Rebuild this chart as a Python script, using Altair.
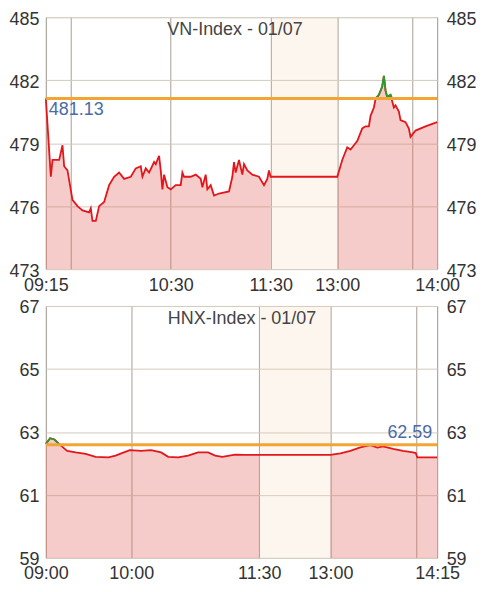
import altair as alt
import pandas as pd
import numpy as np

# ---------------- data ----------------
vn_times = ["09:15", "09:18", "09:19", "09:23", "09:25", "09:26", "09:28", "09:31", "09:34", "09:37",
            "09:41", "09:42", "09:43", "09:45", "09:47", "09:50", "09:53", "09:56", "09:59", "10:02",
            "10:06", "10:09", "10:12", "10:13", "10:15", "10:17", "10:20", "10:21", "10:23", "10:24",
            "10:25", "10:26", "10:28", "10:30", "10:33", "10:36", "10:37", "10:38", "10:42", "10:45",
            "10:48", "10:49", "10:51", "10:52", "10:54", "10:56", "10:59", "11:05", "11:07", "11:08",
            "11:09", "11:11", "11:13", "11:14", "11:16", "11:19", "11:23", "11:26", "11:28", "11:29",
            "11:30", "13:00", "13:03", "13:04", "13:06", "13:08", "13:10", "13:12", "13:15", "13:17",
            "13:19", "13:20", "13:22", "13:23", "13:25", "13:27", "13:28", "13:29", "13:30", "13:32",
            "13:33", "13:34", "13:35", "13:37", "13:38", "13:41", "13:43", "13:44", "13:46", "13:47",
            "13:53", "14:00"]
vn_values = [481.13, 477.4, 478.2, 478.2, 478.9, 477.9, 477.7, 476.3, 476.0, 475.8,
             475.7, 475.9, 475.3, 475.3, 476.0, 476.2, 477.0, 477.4, 477.6, 477.3,
             477.4, 477.8, 477.9, 477.4, 477.8, 477.6, 478.1, 478.0, 478.4, 477.7,
             476.8, 477.5, 476.9, 476.8, 477.0, 477.0, 477.6, 477.4, 477.4, 477.5,
             477.3, 476.9, 477.5, 476.8, 477.0, 476.5, 476.6, 476.7, 477.4, 478.1,
             477.6, 478.2, 477.5, 478.0, 477.7, 477.5, 477.4, 477.0, 477.3, 477.7,
             477.4, 477.4, 478.2, 478.4, 478.8, 478.7, 478.9, 479.1, 479.7, 479.8,
             479.8, 480.3, 480.7, 481.1, 481.3, 481.7, 482.2, 481.5, 481.2, 481.3,
             481.0, 480.7, 480.8, 480.5, 480.1, 480.0, 479.7, 479.3, 479.5, 479.6,
             479.8, 480.0]
vn_ref = 481.13
vn_ticks = [473, 476, 479, 482, 485]
vn_grid_times = ["09:15", "09:30", "10:30", "11:30", "13:00", "13:45", "14:00"]
vn_label_times = ["09:15", "10:30", "11:30", "13:00", "14:00"]
vn_title = "VN-Index - 01/07"

hnx_times = ["09:00", "09:03", "09:06", "09:10", "09:15", "09:21", "09:28", "09:35", "09:44", "09:49",
             "09:53", "09:59", "10:07", "10:14", "10:21", "10:26", "10:33", "10:40", "10:47", "10:54",
             "10:59", "11:04", "11:13", "11:20", "11:30", "13:00", "13:07", "13:14", "13:21", "13:28",
             "13:33", "13:37", "13:44", "13:51", "13:58", "14:00", "14:01", "14:15"]
hnx_values = [62.62, 62.80, 62.76, 62.59, 62.40, 62.35, 62.30, 62.21, 62.19, 62.25,
              62.32, 62.42, 62.40, 62.42, 62.35, 62.21, 62.19, 62.25, 62.35, 62.35,
              62.25, 62.21, 62.28, 62.27, 62.27, 62.27, 62.32, 62.40, 62.51, 62.58,
              62.50, 62.54, 62.46, 62.40, 62.35, 62.33, 62.19, 62.19]
hnx_ref = 62.59
hnx_ticks = [59, 61, 63, 65, 67]
hnx_grid_times = ["09:00", "10:00", "11:30", "13:00", "14:00", "14:15"]
hnx_label_times = ["09:00", "10:00", "11:30", "13:00", "14:15"]
hnx_title = "HNX-Index - 01/07"

FONT = "Liberation Sans"
W, H = 393, 253


def to_min(t):
    h, m = t.split(":")
    return int(h) * 60 + int(m)


def make_pos(open_t, gap):
    o, am_end, pm = to_min(open_t), to_min("11:30"), to_min("13:00")

    def f(t):
        v = to_min(t)
        if v <= am_end:
            return v - o
        return am_end - o + gap + (v - pm)
    return f


def panel(times, values, ref, ticks, open_t, gap, grid_times, label_times, title,
          title_x, ref_align):
    pos = make_pos(open_t, gap)
    df = pd.DataFrame({"time": times, "value": values})
    df["x"] = [pos(t) for t in times]
    df["session"] = ["am" if to_min(t) <= to_min("11:30") else "pm" for t in times]
    df["up"] = np.maximum(df["value"], ref)
    lo, hi = ticks[0], ticks[-1]
    xs = alt.Scale(domain=[0, pos(times[-1])], nice=False, zero=False)
    ys = alt.Scale(domain=[lo, hi], nice=False, zero=False)
    grid_vals = [pos(t) for t in grid_times]
    expr = " : ".join(f"datum.value == {pos(t)} ? '{t}'" for t in label_times) + " : ''"
    xaxis = alt.Axis(values=grid_vals, labelExpr=expr, title=None, grid=True,
                     gridColor="#a59e94", gridWidth=1, ticks=False, domain=False,
                     labelFlush=False, labelOverlap=False, labelPadding=7,
                     labelFont=FONT, labelFontSize=18, labelColor="#333")
    yleft = alt.Axis(values=ticks, title=None, grid=True, gridColor="#d3cbbd",
                     ticks=False, domain=False, labelPadding=7, labelOffset=2,
                     labelOverlap=False, labelFont=FONT, labelFontSize=18,
                     labelColor="#333", orient="left")
    yright = alt.Axis(values=ticks, title=None, grid=False, ticks=False, domain=False,
                      labelPadding=9, labelOffset=2, labelOverlap=False, labelFont=FONT,
                      labelFontSize=18, labelColor="#333", orient="right")

    base = alt.Chart(df)
    lunch = alt.Chart(pd.DataFrame({"a": [pos("11:30")], "b": [pos("13:00")]})).mark_rect(
        color="#f5d0b0", opacity=0.2).encode(
        x=alt.X("a:Q", scale=xs, axis=xaxis), x2="b:Q",
        y=alt.value(0), y2=alt.value(H))
    area = base.mark_area(color="#e36c65", opacity=0.35).encode(
        x=alt.X("x:Q", scale=xs, axis=xaxis),
        y=alt.Y("value:Q", scale=ys, axis=yleft),
        y2=alt.Y2(datum=lo),
        detail="session:N")
    red = base.mark_line(color="#e3161b", strokeWidth=1.8).encode(
        x=alt.X("x:Q", scale=xs, axis=xaxis),
        y=alt.Y("value:Q", scale=ys, axis=yright))
    green = base.mark_line(color="#2e9b2e", strokeWidth=1.8).encode(
        x=alt.X("x:Q", scale=xs, axis=xaxis),
        y=alt.Y("up:Q", scale=ys, axis=None))
    rule = alt.Chart(pd.DataFrame({"r": [ref]})).mark_rule(
        color="#f2a533", strokeWidth=3).encode(
        y=alt.Y("r:Q", scale=ys, axis=None))
    if ref_align == "left":
        lab = alt.Chart(pd.DataFrame({"r": [ref], "t": [f"{ref:.2f}"]})).mark_text(
            align="left", baseline="top", dx=3, dy=3, font=FONT, fontSize=18,
            color="#4a6aa8").encode(x=alt.value(0), y=alt.Y("r:Q", scale=ys, axis=None),
                                    text="t:N")
    else:
        lab = alt.Chart(pd.DataFrame({"r": [ref], "t": [f"{ref:.2f}"]})).mark_text(
            align="right", baseline="bottom", dy=-3, font=FONT, fontSize=18,
            color="#4a6aa8").encode(x=alt.value(W - 5), y=alt.Y("r:Q", scale=ys, axis=None),
                                    text="t:N")
    ttl = alt.Chart(pd.DataFrame({"t": [title]})).mark_text(
        baseline="middle", align="center", font=FONT, fontSize=18, color="#444").encode(
        x=alt.value(title_x), y=alt.value(13), text="t:N")
    return alt.layer(lunch, area, red, green, rule, lab, ttl).resolve_axis(
        y="independent").properties(width=W, height=H)


top = panel(vn_times, vn_values, vn_ref, vn_ticks, "09:15", 40, vn_grid_times,
            vn_label_times, vn_title, 190, "left")
bottom = panel(hnx_times, hnx_values, hnx_ref, hnx_ticks, "09:00", 50, hnx_grid_times,
               hnx_label_times, hnx_title, 197, "right")

chart = alt.vconcat(top, bottom, spacing=3).properties(padding=0).configure_view(
    fill="#fdf6e7", stroke="#b3aba0").configure(background="white")

chart.save("out.html", embed_options={"renderer": "svg", "actions": False})
